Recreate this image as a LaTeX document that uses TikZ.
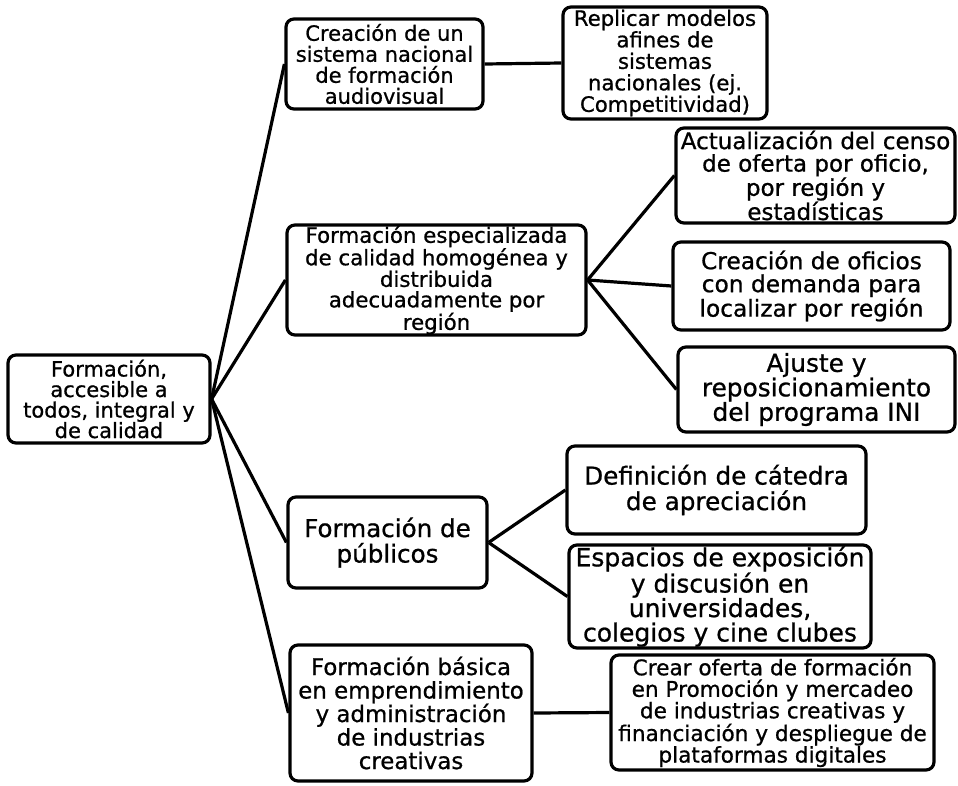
\documentclass[tikz,border=0pt]{standalone}
\usepackage{fontspec}
\setmainfont[FakeBold=0.8]{DejaVu Sans}
\newcommand{\sz}[2]{\fontsize{#1}{#2}\selectfont}
\begin{document}
\begin{tikzpicture}[x=1pt,y=1pt,
  box/.style={draw=black, line width=3.2pt, rounded corners=8pt, align=center, inner sep=0pt, fill=white},
  conn/.style={draw=black, line width=3.2pt}]
\useasboundingbox[fill=white] (0,0) rectangle (958,-785);
% root
\node[box, minimum width=202pt, minimum height=88pt, font=\sz{21}{20.5}] (root) at (109,-399)
  {Formación,\\accesible a\\todos, integral y\\de calidad};
% level 1
\node[box, minimum width=197pt, minimum height=90pt, font=\sz{21}{21}] (b1) at (384.5,-64)
  {Creación de un\\sistema nacional\\de formación\\audiovisual};
\node[box, minimum width=299pt, minimum height=110pt, font=\sz{21.3}{20.5}] (b2) at (436.5,-280)
  {Formación especializada\\de calidad homogénea y\\distribuida\\adecuadamente por\\región};
\node[box, minimum width=199pt, minimum height=91pt, font=\sz{24.6}{25.5}] (b3) at (387.5,-542.5)
  {Formación de\\públicos};
\node[box, minimum width=242pt, minimum height=136pt, font=\sz{22.9}{23.5}] (b4) at (411,-713)
  {Formación básica\\en emprendimiento\\y administración\\de industrias\\creativas};
% level 2
\node[box, minimum width=204pt, minimum height=112pt, font=\sz{21.2}{21.5}] (c1) at (665,-63)
  {Replicar modelos\\afines de\\sistemas\\nacionales (ej.\\Competitividad)};
\node[box, minimum width=279pt, minimum height=95pt, font=\sz{23}{22.5}] (c2) at (815.5,-175.5)
  {Actualización del censo\\de oferta por oficio,\\por región y\\estadísticas};
\node[box, minimum width=277pt, minimum height=88pt, font=\sz{23.3}{23}] (c3) at (811.5,-286)
  {Creación de oficios\\con demanda para\\localizar por región};
\node[box, minimum width=277pt, minimum height=85pt, font=\sz{24.8}{24.5}] (c4) at (816.5,-389.5)
  {Ajuste y\\reposicionamiento\\del programa INI};
\node[box, minimum width=299pt, minimum height=88pt, font=\sz{24.7}{25.5}] (c5) at (716.5,-490)
  {Definición de cátedra\\de apreciación};
\node[box, minimum width=302pt, minimum height=103pt, font=\sz{25}{24.5}] (c6) at (720,-596.5)
  {Espacios de exposición\\y discusión en\\universidades,\\colegios y cine clubes};
\node[box, minimum width=323pt, minimum height=115pt, font=\sz{21.6}{21.5}] (c7) at (772.5,-712.5)
  {Crear oferta de formación\\en Promoción y mercadeo\\de industrias creativas y\\financiación y despliegue de\\plataformas digitales};
% connectors
\draw[conn] (root.east) -- (b1.west);
\draw[conn] (root.east) -- (b2.west);
\draw[conn] (root.east) -- (b3.west);
\draw[conn] (root.east) -- (b4.west);
\draw[conn] (b1.east) -- (c1.west);
\draw[conn] (b2.east) -- (c2.west);
\draw[conn] (b2.east) -- (c3.west);
\draw[conn] (b2.east) -- (c4.west);
\draw[conn] (b3.east) -- (c5.west);
\draw[conn] (b3.east) -- (c6.west);
\draw[conn] (b4.east) -- (c7.west);
\end{tikzpicture}
\end{document}
